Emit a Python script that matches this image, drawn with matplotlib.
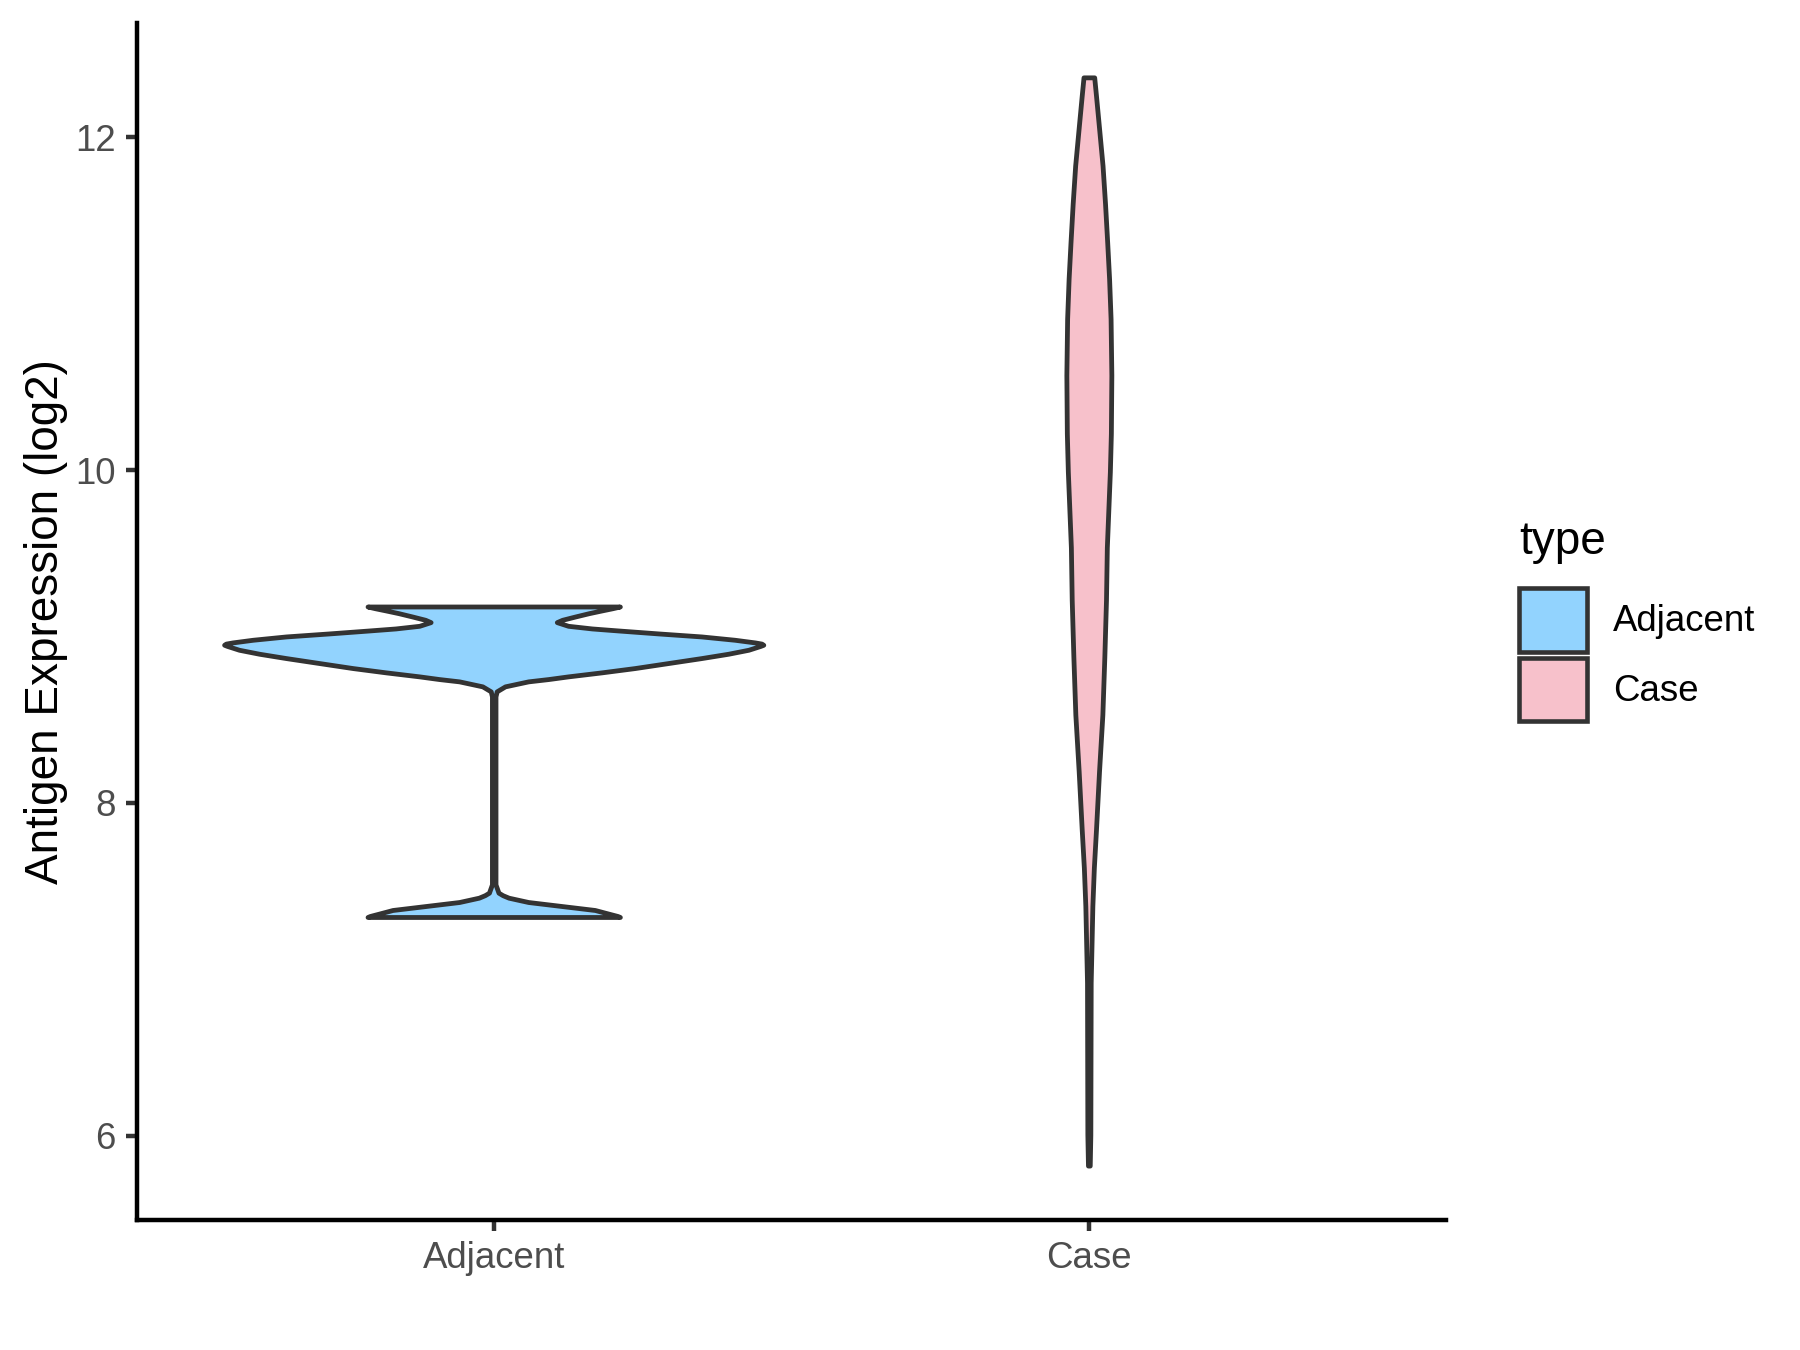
import numpy as np
import matplotlib.pyplot as plt
from matplotlib.patches import Patch

plt.rcParams['font.family'] = ['Liberation Sans', 'DejaVu Sans']

# categories and fill colours
groups = ['Adjacent', 'Case']
colors = ['#92D3FE', '#F7C1CB']

# violin outlines: expression value (log2) and half width
adj_y = [7.314, 7.32, 7.335, 7.356, 7.368, 7.38, 7.392, 7.404, 7.43, 7.445, 7.46, 7.51,
         8.60, 8.64, 8.67, 8.70, 8.73, 8.744, 8.76, 8.784, 8.81, 8.84, 8.87, 8.896,
         8.92, 8.943, 8.95, 8.957, 8.964, 8.98, 9.0, 9.018, 9.036, 9.048, 9.064, 9.086,
         9.10, 9.12, 9.14, 9.156, 9.17, 9.18]
adj_w = [0.212, 0.208, 0.192, 0.170, 0.142, 0.114, 0.086, 0.058, 0.025, 0.015, 0.008, 0.003,
         0.003, 0.003, 0.005, 0.019, 0.058, 0.092, 0.125, 0.181, 0.237, 0.293, 0.349, 0.394,
         0.428, 0.448, 0.453, 0.450, 0.439, 0.405, 0.349, 0.277, 0.209, 0.165, 0.125, 0.106,
         0.115, 0.137, 0.160, 0.181, 0.200, 0.212]

case_y = [5.82, 6.006, 6.47, 6.92, 7.38, 7.61, 7.84, 8.19, 8.53, 8.876, 9.22, 9.535,
          9.99, 10.22, 10.57, 10.91, 11.15, 11.37, 11.60, 11.83, 12.06, 12.25, 12.36]
case_w = [0.0015, 0.0025, 0.0028, 0.0031, 0.0059, 0.0084, 0.0120, 0.0171, 0.0227, 0.0260,
          0.0288, 0.0302, 0.0353, 0.0370, 0.0378, 0.0365, 0.0340, 0.0308, 0.0272, 0.0230,
          0.0170, 0.0120, 0.0090]

y_ticks = [6, 8, 10, 12]

profiles = [(adj_y, adj_w), (case_y, case_w)]
vpstats = []
for yy, ww in profiles:
    yy = np.array(yy)
    vpstats.append({'coords': yy, 'vals': np.array(ww), 'mean': yy.mean(),
                    'median': np.median(yy), 'min': yy.min(), 'max': yy.max(),
                    'quantiles': np.array([])})
widths = [2 * max(ww) for _, ww in profiles]

fig = plt.figure(figsize=(6, 4.5), dpi=300)
ax = fig.add_axes([0.0759, 0.0963, 0.8033 - 0.0759, 0.983 - 0.0963])

parts = ax.violin(vpstats, positions=[1, 2], widths=widths,
                  showmeans=False, showextrema=False, showmedians=False)
for body, c in zip(parts['bodies'], colors):
    body.set_facecolor(c)
    body.set_edgecolor('#333333')
    body.set_linewidth(1.15)
    body.set_joinstyle('round')
    body.set_alpha(1)

ax.set_xlim(0.4, 2.6)
ax.set_ylim(5.493, 12.687)
ax.set_xticks([1, 2])
ax.set_xticklabels(groups)
ax.set_yticks(y_ticks)
ax.set_yticklabels([str(t) for t in y_ticks])
ax.tick_params(length=2.75, width=1.07, color='#333333', labelsize=8.8,
               labelcolor='#4D4D4D', pad=2.2)
for s in ['top', 'right']:
    ax.spines[s].set_visible(False)
for s in ['left', 'bottom']:
    ax.spines[s].set_linewidth(1.07)
    ax.spines[s].set_color('black')
ax.set_ylabel('Antigen Expression (log2)', fontsize=11, color='black', labelpad=1.8)

# legend: title drawn as text, keys as patches
fig.text(0.844, 0.5893, 'type', fontsize=11, color='black', ha='left', va='baseline')
handles = [Patch(facecolor=c, edgecolor='#333333', linewidth=1.1) for c in colors]
leg = fig.legend(handles, groups, loc='center left',
                 bbox_to_anchor=(0.844, 0.5150), frameon=False, fontsize=8.8,
                 handlelength=1.85, handleheight=2.3,
                 labelspacing=0.16, handletextpad=0.7, borderpad=0,
                 borderaxespad=0)

fig.savefig('out.png', dpi=300)
